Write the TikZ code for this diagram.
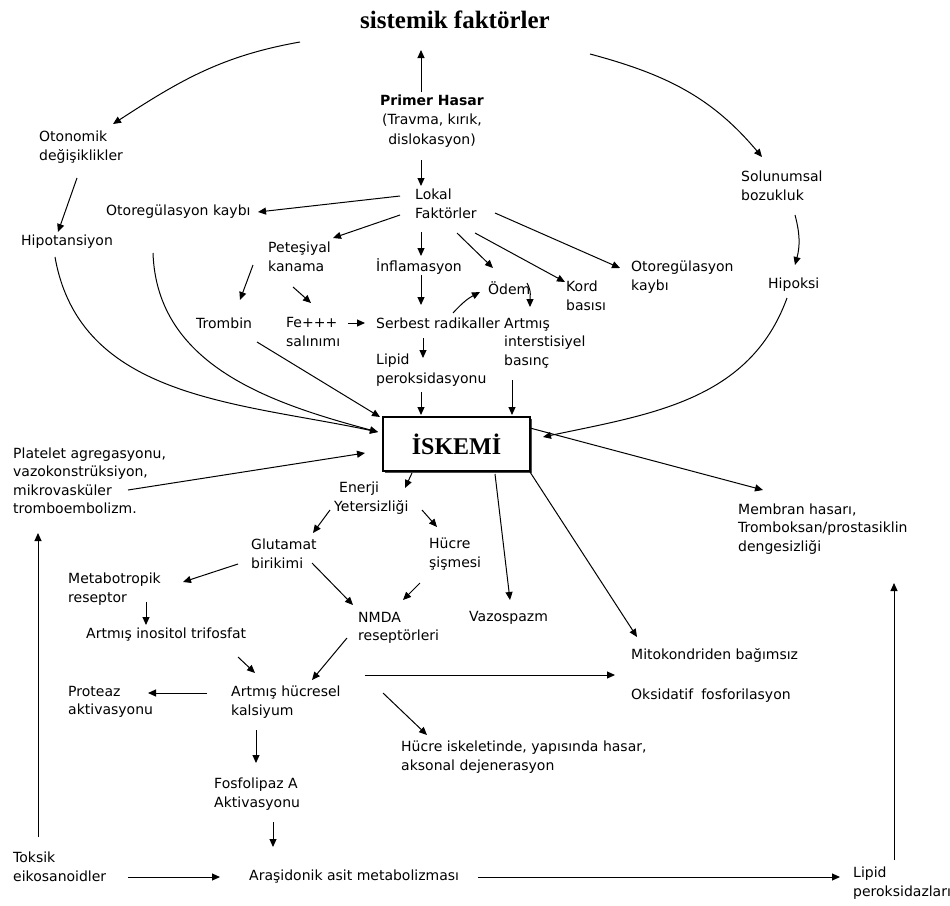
\documentclass[tikz,border=0pt]{standalone}
\usepackage{fontspec}
\setmainfont{DejaVu Sans}
\newfontfamily\serifbold{Liberation Serif}
\usetikzlibrary{arrows.meta,calc,shadows}
\begin{document}
\begin{tikzpicture}[x=1pt,y=1pt,
  lbl/.style={inner sep=1pt, font=\fontsize{14}{18.5}\selectfont, align=left, anchor=west},
  arr/.style={-{Triangle[length=8pt,width=7pt]}, line width=1pt},
  line/.style={line width=1pt}]
\useasboundingbox (0,0) rectangle (950,-905);

% nodes
\node[inner sep=1pt, font=\serifbold\bfseries\fontsize{25}{30}\selectfont] (title) at (455,-20) {sistemik faktörler};
\node[inner sep=1pt, align=center, font=\fontsize{14}{19.5}\selectfont] (primer) at (432,-121) {{\bfseries Primer Hasar}\\(Travma, kırık,\\dislokasyon)};
\node[lbl] (otonomik) at (38,-147) {Otonomik\\değişiklikler};
\node[lbl] (hipo) at (20,-242) {Hipotansiyon};
\node[lbl] (lokal) at (414,-204) {Lokal\\Faktörler};
\node[lbl] (otoregL) at (105,-212) {Otoregülasyon kaybı};
\node[lbl] (petes) at (267,-257) {Peteşiyal\\kanama};
\node[lbl] (inflam) at (375,-267) {İnflamasyon};
\node[lbl] (odem) at (487,-288) {Ödem};
\node[lbl] (kord) at (565,-296) {Kord\\basısı};
\node[lbl] (otoregR) at (630,-277) {Otoregülasyon\\kaybı};
\node[lbl] (solunum) at (740,-186) {Solunumsal\\bozukluk};
\node[lbl] (hipoksi) at (767,-285) {Hipoksi};
\node[lbl] (trombin) at (195,-323) {Trombin};
\node[lbl] (fe) at (285,-332) {Fe+++\\salınımı};
\node[lbl] (serbest) at (375,-323) {Serbest radikaller};
\node[lbl] (artmis) at (503,-343) {Artmış\\interstisiyel\\basınç};
\node[lbl] (lipid) at (375,-370) {Lipid\\peroksidasyonu};
\node[draw, line width=1.1pt, fill=white, minimum width=147pt, minimum height=54pt, inner sep=0pt,
      drop shadow={shadow xshift=2pt, shadow yshift=-2pt, fill=black!70, opacity=1},
      font=\serifbold\bfseries\fontsize{24}{28}\selectfont] (iskemi) at (456.5,-444) {İSKEMİ\hspace{18pt}};
\node[lbl] (platelet) at (12,-481) {Platelet agregasyonu,\\vazokonstrüksiyon,\\mikrovasküler\\tromboembolizm.};
\node[lbl] (membran) at (737,-529) {Membran hasarı,\\Tromboksan/prostasiklin\\dengesizliği};
\node[lbl] (enerji) at (333,-498) {\hspace*{5pt}Enerji\\Yetersizliği};
\node[lbl] (glutamat) at (250,-554) {Glutamat\\birikimi};
\node[lbl] (hucre) at (428,-554) {Hücre\\şişmesi};
\node[lbl] (vazo) at (468,-618) {Vazospazm};
\node[lbl, font=\fontsize{14}{40}\selectfont] (mito) at (630,-675) {Mitokondriden bağımsız\\Oksidatif\hspace{8pt}fosforilasyon};
\node[lbl] (nmda) at (357,-628) {NMDA\\reseptörleri};
\node[lbl] (metab) at (67,-589) {Metabotropik\\reseptor};
\node[lbl] (inositol) at (85,-635) {Artmış inositol trifosfat};
\node[lbl] (kalsiyum) at (230,-702) {Artmış hücresel\\kalsiyum};
\node[lbl] (proteaz) at (67,-702) {Proteaz\\aktivasyonu};
\node[lbl] (iskelet) at (400,-757) {Hücre iskeletinde, yapısında hasar,\\aksonal dejenerasyon};
\node[lbl] (fosfo) at (213,-794) {Fosfolipaz A\\Aktivasyonu};
\node[lbl] (toksik) at (12,-867) {Toksik\\eikosanoidler};
\node[lbl] (arasidonik) at (248,-877) {Araşidonik asit metabolizması};
\node[lbl] (lipidp) at (852,-883) {Lipid\\peroksidazları};

% connectors
\draw[arr] ($(primer.center)+(-11,29)$) -- ($(title.center)+(-34,-30)$);
\draw[arr] ($(title.center)+(-155,-22)$) to[out=190,in=33] ($(otonomik.west)+(75,23)$);
\draw[arr] ($(title.center)+(135,-34)$) to[out=-15,in=130] ($(solunum.west)+(22,29)$);
\draw[arr] ($(otonomik.west)+(39,-31)$) -- ($(hipo.west)+(38,10)$);
\draw[arr] ($(primer.center)+(-11,-39)$) -- ($(lokal.west)+(7,18)$);
\draw[arr] ($(lokal.west)+(-14,8)$) -- ($(otoregL.west)+(153,0)$);
\draw[arr] ($(lokal.west)+(-14,-11)$) -- ($(petes.west)+(66,19)$);
\draw[arr] ($(lokal.west)+(7,-28)$) -- ($(inflam.west)+(46,11)$);
\draw[arr] ($(lokal.west)+(43,-29)$) -- ($(odem.west)+(6,20)$);
\draw[arr] ($(lokal.west)+(61,-29)$) -- ($(kord.west)+(0,14)$);
\draw[arr] ($(lokal.west)+(81,-9)$) -- ($(otoregR.west)+(-10,9)$);
\draw[arr] ($(solunum.west)+(55,-29)$) to[bend left=15] ($(hipoksi.west)+(28,20)$);
\draw[arr] ($(petes.west)+(-14,-8)$) -- ($(trombin.west)+(45,23)$);
\draw[arr] ($(petes.west)+(26,-30)$) -- ($(fe.west)+(26,29)$);
\draw[arr] ($(fe.west)+(63,9)$) -- ($(serbest.west)+(-10,0)$);
\draw[arr] ($(inflam.west)+(46,-8)$) -- ($(serbest.west)+(46,18)$);
\draw[arr] ($(serbest.west)+(78,10)$) to[bend left=10] ($(odem.west)+(-7,-4)$);
\draw[arr] ($(odem.west)+(40,5)$) to[out=-60,in=90] ($(artmis.west)+(27,36)$);
\draw[arr] ($(serbest.west)+(48,-15)$) -- ($(lipid.west)+(48,12)$);
\draw[arr] ($(lipid.west)+(46,-22)$) -- ($(iskemi.center)+(-35.5,29)$);
\draw[arr] ($(artmis.west)+(9,-37)$) -- ($(iskemi.center)+(55.5,29)$);
\draw[arr] ($(hipo.west)+(35,-15)$) to[out=-80,in=168] ($(iskemi.center)+(-78.5,12)$);
\draw[arr] ($(otoregL.west)+(48,-41)$) to[out=-88,in=165] ($(iskemi.center)+(-78.5,12)$);
\draw[arr] ($(trombin.west)+(62,-19)$) -- ($(iskemi.center)+(-76.5,27)$);
\draw[arr] ($(platelet.west)+(116,-9)$) -- ($(iskemi.center)+(-91.5,-9)$);
\draw[arr] ($(toksik.west)+(26,30)$) -- ($(platelet.west)+(26,-52)$);
\draw[arr] ($(hipoksi.west)+(20,-13)$) to[out=250,in=12] ($(iskemi.center)+(86.5,7)$);
\draw[arr] ($(iskemi.center)+(73.5,16)$) -- ($(membran.west)+(26,39)$);
\draw[arr] ($(iskemi.center)+(-44.5,-29)$) -- ($(enerji.west)+(72,10)$);
\draw[arr] ($(enerji.west)+(-3,-12)$) -- ($(glutamat.west)+(63,21)$);
\draw[arr] ($(enerji.west)+(89,-12)$) -- ($(hucre.west)+(9,27)$);
\draw[arr] ($(iskemi.center)+(38.5,-30)$) -- ($(vazo.west)+(42,18)$);
\draw[arr] ($(iskemi.center)+(73.5,-28)$) -- ($(mito.west)+(7,38)$);
\draw[arr] ($(glutamat.west)+(62,-9)$) -- ($(nmda.west)+(-4,23)$);
\draw[arr] ($(hucre.west)+(-8,-29)$) -- ($(nmda.west)+(46,28)$);
\draw[arr] ($(glutamat.west)+(-12,-10)$) -- ($(metab.west)+(116,7)$);
\draw[arr] ($(metab.west)+(79,-13)$) -- ($(inositol.west)+(61,10)$);
\draw[arr] ($(inositol.west)+(153,-22)$) -- ($(kalsiyum.west)+(25,29)$);
\draw[arr] ($(nmda.west)+(-10,-10)$) -- ($(kalsiyum.west)+(82,22)$);
\draw[arr] ($(kalsiyum.west)+(-23,9)$) -- ($(proteaz.west)+(81,9)$);
\draw[arr] ($(kalsiyum.west)+(135,27)$) -- ($(mito.west)+(-15,0)$);
\draw[arr] ($(kalsiyum.west)+(153,9)$) -- ($(iskelet.west)+(27,22)$);
\draw[arr] ($(kalsiyum.west)+(26,-28)$) -- ($(fosfo.west)+(43,31)$);
\draw[arr] ($(fosfo.west)+(60,-28)$) -- ($(arasidonik.west)+(25,30)$);
\draw[arr] ($(toksik.west)+(116,-10)$) -- ($(arasidonik.west)+(-28,0)$);
\draw[arr] ($(arasidonik.west)+(230,0)$) -- ($(lipidp.west)+(-12,6)$);
\draw[arr] ($(lipidp.west)+(42,23)$) -- ($(membran.west)+(157,-54)$);
\end{tikzpicture}
\end{document}
